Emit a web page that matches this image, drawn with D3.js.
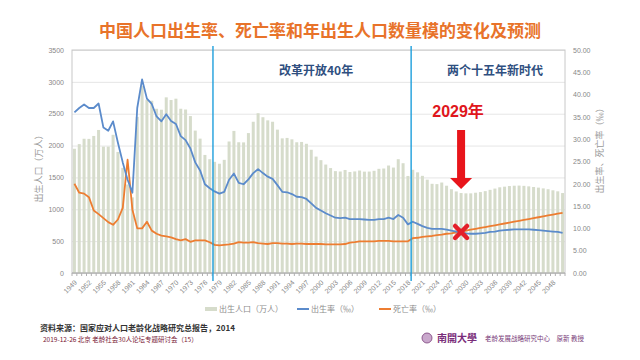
<html>
<head>
<meta charset="utf-8">
<script src="https://cdnjs.cloudflare.com/ajax/libs/d3/7.8.5/d3.min.js"></script>
</head>
<body style="margin:0;background:#fff;font-family:'Noto Sans CJK SC',sans-serif;">
<div id="chart"></div>
<script>

// D A T A

let years = d3.range(1949, 2051)

// births, 10k persons (1949-2018 observed, 2019-2050 projected)
let births = [
  1950, 2023, 2107, 2105, 2151, 2245, 1984, 1984, 2169, 1900,
  1650, 1389, 1187, 2451, 2934, 2721, 2704, 2577, 2563, 2757,
  2715, 2736, 2578, 2566, 2463, 2235, 2109, 1853, 1786, 1745,
  1715, 1776, 2064, 2230, 2052, 2050, 2196, 2374, 2508, 2445,
  2396, 2374, 2250, 2113, 2120, 2098, 2052, 2057, 2028, 1934,
  1827, 1771, 1702, 1647, 1599, 1593, 1617, 1585, 1594, 1608,
  1591, 1592, 1604, 1635, 1640, 1687, 1655, 1786, 1723, 1523,
  1620, 1580, 1525, 1465, 1400, 1395, 1420, 1370, 1315, 1280,
  1255, 1250, 1250, 1260, 1270, 1285, 1305, 1325, 1345, 1355,
  1365, 1370, 1372, 1368, 1360, 1350, 1340, 1328, 1315, 1298,
  1282, 1255
]

// birth rate, per mille
let birthRate = [
  36.0, 37.0, 37.8, 37.0, 37.0, 38.0, 32.6, 31.9, 34.0, 29.2,
  24.8, 20.9, 18.0, 37.0, 43.4, 39.1, 37.9, 35.1, 34.0, 35.6,
  34.1, 33.4, 30.7, 29.8, 27.9, 24.8, 23.0, 19.9, 19.0, 18.3,
  17.8, 18.2, 20.9, 22.3, 20.2, 19.9, 21.0, 22.4, 23.3, 22.4,
  21.6, 21.1, 19.7, 18.2, 18.1, 17.7, 17.1, 17.0, 16.6, 15.6,
  14.6, 14.0, 13.4, 12.9, 12.4, 12.3, 12.4, 12.1, 12.1, 12.1,
  12.0, 11.9, 11.9, 12.1, 12.1, 12.4, 12.1, 13.0, 12.4, 10.9,
  11.5, 11.0, 10.5, 10.1, 9.9, 9.9, 9.9, 9.7, 9.5, 9.3,
  9.1, 8.9, 8.8, 8.8, 8.9, 9.0, 9.2, 9.3, 9.5, 9.6,
  9.7, 9.8, 9.8, 9.8, 9.8, 9.7, 9.6, 9.5, 9.4, 9.3,
  9.2, 9.0
]

// death rate, per mille
let deathRate = [
  20.0, 18.0, 17.8, 17.0, 14.0, 13.2, 12.3, 11.4, 10.8, 12.0,
  14.6, 25.4, 14.2, 10.0, 10.0, 11.5, 9.5, 8.8, 8.4, 8.2,
  8.0, 7.6, 7.3, 7.6, 7.0, 7.3, 7.3, 7.3, 6.9, 6.3,
  6.2, 6.3, 6.4, 6.6, 6.9, 6.8, 6.8, 6.9, 6.7, 6.6,
  6.5, 6.7, 6.7, 6.6, 6.6, 6.5, 6.6, 6.6, 6.5, 6.5,
  6.5, 6.5, 6.4, 6.4, 6.4, 6.4, 6.5, 6.8, 6.9, 7.1,
  7.1, 7.1, 7.1, 7.2, 7.2, 7.2, 7.1, 7.1, 7.1, 7.1,
  7.8, 7.9, 8.1, 8.2, 8.3, 8.5, 8.6, 8.8, 8.9, 9.1,
  9.3, 9.5, 9.7, 9.9, 10.1, 10.3, 10.5, 10.7, 10.9, 11.1,
  11.3, 11.5, 11.7, 11.9, 12.1, 12.3, 12.5, 12.7, 12.9, 13.1,
  13.3, 13.5
]

let leftTicks = d3.range(0, 3501, 500)
let rightTicks = d3.range(0, 51, 5)
let yearLabels = years.filter(y => (y - 1949) % 3 == 0)
let dividers = [1978, 2019]
let eras = [{year: 1999, text: '改革开放40年'}, {year: 2036, text: '两个十五年新时代'}]
let crossYear = 2029
let crossRate = 9.2


// S C A L E S

let W = 640, H = 360
let svg = d3.select('#chart').append('svg')
  .attr('width', W).attr('height', H)

let plot = {left: 72, right: 565, top: 50, bottom: 273}

let x = d3.scaleBand()
  .domain(years)
  .range([plot.left, plot.right])
  .paddingInner(0.38)
  .paddingOuter(0.19)
let bw = x.bandwidth()
let cx = y => x(y) + bw / 2
let step = x.step()

let yL = d3.scaleLinear().domain([0, 3500]).range([plot.bottom, plot.top])
let yR = d3.scaleLinear().domain([0, 50]).range([plot.bottom, plot.top])

// title
svg.append('text')
  .attr('x', 320).attr('y', 37)
  .attr('text-anchor', 'middle')
  .style('font-size', '17px').style('font-weight', 'bold')
  .style('fill', '#e8732a')
  .text('中国人口出生率、死亡率和年出生人口数量模的变化及预测')


// A X I S

// grid
svg.append('g')
  .attr('transform', `translate(${plot.left},0)`)
  .call(d3.axisLeft(yL).tickValues(leftTicks).tickSize(-(plot.right - plot.left)).tickFormat(''))
  .call(g => g.select('.domain').remove())
  .call(g => g.selectAll('line').attr('stroke', '#e6e6e6'))

// plot frame
svg.append('rect')
  .attr('x', plot.left).attr('y', plot.top)
  .attr('width', plot.right - plot.left).attr('height', plot.bottom - plot.top)
  .attr('fill', 'none').attr('stroke', '#c8c8c8')

// left axis
svg.append('g')
  .attr('transform', `translate(${plot.left - 6},0)`)
  .call(d3.axisLeft(yL).tickValues(leftTicks).tickSize(0).tickPadding(2).tickFormat(d3.format('d')))
  .call(g => g.select('.domain').remove())
  .call(g => g.selectAll('text').style('font-size', '7px').style('fill', '#888')
    .style('font-family', "'Liberation Sans',sans-serif"))

svg.append('text')
  .attr('transform', `translate(42,${(plot.top + plot.bottom) / 2 + 5}) rotate(-90)`)
  .attr('text-anchor', 'middle')
  .style('font-size', '9px').style('fill', '#999')
  .text('出生人口（万人）')

// right axis
svg.append('g')
  .attr('transform', `translate(${plot.right + 6},0)`)
  .call(d3.axisRight(yR).tickValues(rightTicks).tickSize(0).tickPadding(2).tickFormat(d3.format('.2f')))
  .call(g => g.select('.domain').remove())
  .call(g => g.selectAll('text').style('font-size', '7px').style('fill', '#888')
    .style('font-family', "'Liberation Sans',sans-serif"))

svg.append('text')
  .attr('transform', `translate(603,${(plot.top + plot.bottom) / 2 - 13}) rotate(-90)`)
  .attr('text-anchor', 'middle')
  .style('font-size', '9px').style('fill', '#999')
  .text('出生率、死亡率（‰）')


// R E N D E R

// bars
svg.append('g')
  .selectAll('rect')
  .data(years)
  .enter().append('rect')
    .attr('x', d => x(d))
    .attr('y', (d, i) => yL(births[i]))
    .attr('width', bw)
    .attr('height', (d, i) => plot.bottom - yL(births[i]))
    .attr('fill', '#d6dccb')

// bottom axis with per-year ticks
svg.append('line')
  .attr('x1', plot.left).attr('x2', plot.right)
  .attr('y1', plot.bottom).attr('y2', plot.bottom)
  .attr('stroke', '#a6a6a6')
svg.append('g')
  .selectAll('line')
  .data(years.concat([2051]))
  .enter().append('line')
    .attr('x1', d => plot.left + (d - 1949) * step)
    .attr('x2', d => plot.left + (d - 1949) * step)
    .attr('y1', plot.bottom).attr('y2', plot.bottom + 3)
    .attr('stroke', '#b0b0b0')

svg.append('g')
  .selectAll('text')
  .data(yearLabels)
  .enter().append('text')
    .attr('transform', d => `translate(${cx(d) + 3},${plot.bottom + 10}) rotate(-45)`)
    .attr('text-anchor', 'end')
    .style('font-size', '7px').style('fill', '#888')
    .style('font-family', "'Liberation Sans',sans-serif")
    .text(d => d)

// lines
let line = series => d3.line()
  .x((d, i) => cx(years[i]))
  .y(d => yR(d))(series)

svg.append('path')
  .attr('d', line(deathRate))
  .attr('fill', 'none').attr('stroke', '#ed7d31')
  .attr('stroke-width', 1.8).attr('stroke-linejoin', 'round')

svg.append('path')
  .attr('d', line(birthRate))
  .attr('fill', 'none').attr('stroke', '#5b8bcb')
  .attr('stroke-width', 1.8).attr('stroke-linejoin', 'round')

// period dividers
svg.append('g')
  .selectAll('line')
  .data(dividers)
  .enter().append('line')
    .attr('x1', d => x(d) - (step - bw) / 2 + 0.8)
    .attr('x2', d => x(d) - (step - bw) / 2 + 0.8)
    .attr('y1', plot.top - 4).attr('y2', plot.bottom + 8)
    .attr('stroke', '#1e9fdc').attr('stroke-width', 1.4)

svg.append('g')
  .selectAll('text')
  .data(eras)
  .enter().append('text')
    .attr('x', d => cx(d.year)).attr('y', 75)
    .attr('text-anchor', 'middle')
    .style('font-size', '12px').style('font-weight', 'bold')
    .style('fill', '#2f4f80')
    .text(d => d.text)

// 2029 annotation
let ax = cx(crossYear)
svg.append('text')
  .attr('x', ax - 3).attr('y', 117)
  .attr('text-anchor', 'middle')
  .style('font-size', '16px').style('font-weight', 'bold')
  .style('fill', '#e0161c')
  .style('font-family', "'Liberation Sans','Noto Sans CJK SC',sans-serif")
  .text('2029年')

svg.append('path')
  .attr('d', `M${ax - 4},130 L${ax + 4},130 L${ax + 4},178 L${ax + 11},178 L${ax},189 L${ax - 11},178 L${ax - 4},178 Z`)
  .attr('fill', '#e8151b')

let xy = yR(crossRate)
svg.append('path')
  .attr('d', `M${ax - 6},${xy - 6} L${ax + 6},${xy + 6} M${ax + 6},${xy - 6} L${ax - 6},${xy + 6}`)
  .attr('stroke', '#e4202a').attr('stroke-width', 4.5).attr('stroke-linecap', 'round')


// L E G E N D

let legend = svg.append('g').style('font-size', '8px').style('fill', '#8c8c8c')
legend.append('rect').attr('x', 205).attr('y', 307).attr('width', 12).attr('height', 4).attr('fill', '#d6dccb')
legend.append('text').attr('x', 219).attr('y', 312).text('出生人口（万人）')
legend.append('line').attr('x1', 297).attr('x2', 309).attr('y1', 309).attr('y2', 309)
  .attr('stroke', '#5b8bcb').attr('stroke-width', 2)
legend.append('text').attr('x', 311).attr('y', 312).text('出生率（‰）')
legend.append('line').attr('x1', 379).attr('x2', 391).attr('y1', 309).attr('y2', 309)
  .attr('stroke', '#ed7d31').attr('stroke-width', 2)
legend.append('text').attr('x', 393).attr('y', 312).text('死亡率（‰）')


// F O O T E R

svg.append('text')
  .attr('x', 40).attr('y', 331)
  .style('font-size', '8px').style('font-weight', 'bold').style('fill', '#333')
  .text('资料来源：国家应对人口老龄化战略研究总报告，2014')

svg.append('text')
  .attr('x', 43).attr('y', 342)
  .style('font-size', '6.5px').style('fill', '#7a2035')
  .text('2019-12-26 北京 老龄社会30人论坛专题研讨会（15）')

svg.append('circle')
  .attr('cx', 427).attr('cy', 338).attr('r', 5)
  .attr('fill', '#c9a8cc').attr('stroke', '#7a3d7a').attr('stroke-width', 0.8)

svg.append('text')
  .attr('x', 437).attr('y', 342)
  .style('font-size', '10px').style('font-weight', 'bold').style('fill', '#7a2d7a')
  .style('font-family', "'Noto Sans CJK TC',sans-serif")
  .text('南開大學')

svg.append('text')
  .attr('x', 485).attr('y', 341)
  .style('font-size', '6.5px').style('fill', '#7a3d7a')
  .text('老龄发展战略研究中心　原新 教授')

</script>
</body>
</html>
